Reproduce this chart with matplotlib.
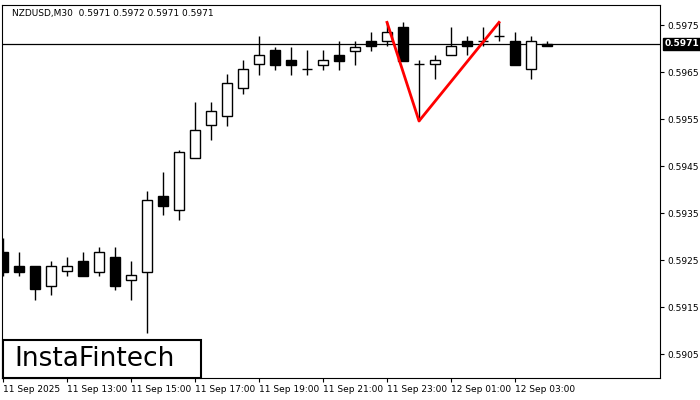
import matplotlib
matplotlib.use("Agg")
import matplotlib.pyplot as plt
import matplotlib.patches as mpatches

times = ["11:00","11:30","12:00","12:30","13:00","13:30","14:00","14:30","15:00","15:30","16:00","16:30",
         "17:00","17:30","18:00","18:30","19:00","19:30","20:00","20:30","21:00","21:30","22:00","22:30",
         "23:00","23:30","00:00","00:30","01:00","01:30","02:00","02:30","03:00","03:30","04:00"]
opens  = [0.59267,0.59237,0.59237,0.59195,0.59227,0.59248,0.59224,0.59256,0.59207,0.59224,0.59386,0.59356,
          0.59467,0.59537,0.59556,0.59616,0.59667,0.59697,0.59676,0.59656,0.59665,0.59686,0.59695,0.59716,
          0.59716,0.59746,0.59667,0.59667,0.59686,0.59716,0.59716,0.59727,0.59716,0.59656,0.59710]
highs  = [0.59297,0.59267,0.59237,0.59248,0.59256,0.59267,0.59278,0.59278,0.59248,0.59397,0.59437,0.59484,
          0.59586,0.59586,0.59646,0.59676,0.59727,0.59703,0.59703,0.59697,0.59697,0.59716,0.59716,0.59735,
          0.59756,0.59756,0.59676,0.59686,0.59746,0.59727,0.59746,0.59756,0.59735,0.59727,0.59716]
lows   = [0.59216,0.59216,0.59165,0.59176,0.59216,0.59216,0.59216,0.59186,0.59165,0.59095,0.59346,0.59335,
          0.59467,0.59505,0.59535,0.59603,0.59644,0.59654,0.59644,0.59644,0.59654,0.59654,0.59665,0.59695,
          0.59705,0.59673,0.59546,0.59635,0.59686,0.59686,0.59705,0.59716,0.59665,0.59635,0.59705]
closes = [0.59224,0.59224,0.59188,0.59237,0.59237,0.59216,0.59267,0.59195,0.59218,0.59378,0.59365,0.59480,
          0.59527,0.59567,0.59627,0.59656,0.59686,0.59665,0.59665,0.59656,0.59676,0.59673,0.59703,0.59705,
          0.59735,0.59673,0.59667,0.59676,0.59705,0.59705,0.59716,0.59727,0.59665,0.59716,0.59705]
pattern_idx = [24, 26, 31]
pattern_px = [0.59756, 0.59546, 0.59756]
current = 0.5971
yticks = [0.5905, 0.5915, 0.5925, 0.5935, 0.5945, 0.5955, 0.5965, 0.5975]
xtick_idx = [0, 4, 8, 12, 16, 20, 24, 28, 32]
xtick_labels = ["11 Sep 2025","11 Sep 13:00","11 Sep 15:00","11 Sep 17:00","11 Sep 19:00",
                "11 Sep 21:00","11 Sep 23:00","12 Sep 01:00","12 Sep 03:00"]

fig = plt.figure(figsize=(7, 4), dpi=100)
ax = fig.add_axes([2/700, 22/400, 658/700, 373/400])
ax.set_xlim(-0.0625, 41.06)
ax.set_ylim(0.58999, 0.59793)

w = 0.62
for i, (o, h, l, c) in enumerate(zip(opens, highs, lows, closes)):
    top, bot = max(o, c), min(o, c)
    ax.vlines(i, l, h, color="black", lw=1, zorder=2)
    if abs(c - o) < 0.00003:
        ax.hlines(o, i - w/2, i + w/2, color="black", lw=1, zorder=3)
    else:
        fc = "white" if c > o else "black"
        ax.add_patch(mpatches.Rectangle((i - w/2, bot), w, top - bot, facecolor=fc,
                                        edgecolor="black", lw=1, zorder=3))

ax.axhline(current, color="black", lw=0.9, zorder=1)
ax.plot(pattern_idx, pattern_px, color="red", lw=2, zorder=4)

ax.yaxis.tick_right()
ax.set_yticks(yticks)
ax.set_yticklabels([f"{v:.4f}" for v in yticks], fontsize=6.5)
ax.set_xticks(xtick_idx)
ax.set_xticklabels(xtick_labels, fontsize=6.5, ha="left")
ax.tick_params(length=3, width=0.8, pad=2)
for s in ax.spines.values():
    s.set_linewidth(0.8)

ax.text(0.015, 0.99, "NZDUSD,M30  0.5971 0.5972 0.5971 0.5971", transform=ax.transAxes,
        fontsize=6.5, va="top", ha="left")
ax.annotate("0.5971", xy=(1.0, current), xycoords=("axes fraction", "data"),
            xytext=(3, 0), textcoords="offset points", fontsize=6.5, color="white",
            va="center", ha="left", fontweight="bold",
            bbox=dict(boxstyle="square,pad=0.15", fc="black", ec="black"))

fig.patches.append(mpatches.Rectangle((3/700, 22/400), 198/700, 38/400, transform=fig.transFigure,
                                      facecolor="white", edgecolor="black", lw=1.5, zorder=10))
fig.text(14/700, 41/400, "InstaFintech", fontsize=19, va="center", ha="left", zorder=11)

fig.savefig("out.png", dpi=100)
